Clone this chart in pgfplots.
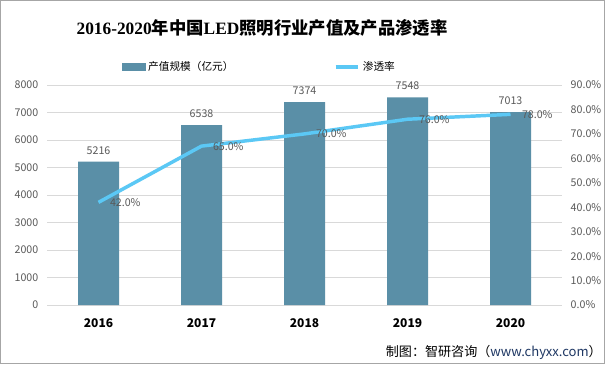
\documentclass[border=0pt]{standalone}
\usepackage{pgfplots}
\pgfplotsset{compat=1.18}
\usepackage{fontspec}
\setmainfont{Noto Sans CJK SC}
\newfontfamily\titlelatin{Liberation Serif}
\definecolor{barc}{HTML}{5A8FA7}
\definecolor{linec}{HTML}{5BC8F5}
\definecolor{tickc}{HTML}{595959}
\definecolor{gridc}{HTML}{D9D9D9}
\definecolor{framec}{HTML}{A6A6A6}
\begin{document}
\begin{tikzpicture}[x=0.75pt,y=0.75pt]
\fill[white] (0,0) rectangle (605,364);
\draw[framec, line width=0.9pt] (0.6,0.6) rectangle (604.4,363.4);
\node[font=\bfseries\fontsize{13}{16}\selectfont] at (262,336) {{\titlelatin 2016-2020}年中国{\titlelatin LED}照明行业产值及产品渗透率};
\node[anchor=east, font=\fontsize{9.8}{12}\selectfont, inner sep=0pt] at (602,12) {制图：智研咨询（{\color[HTML]{1F3864}www.chyxx.com}）};
\begin{axis}[
  at={(35.25pt,44.25pt)}, anchor=south west,
  scale only axis, width=386.25pt, height=165pt,
  xmin=-0.5, xmax=4.5, ymin=0, ymax=8000,
  ytick={0,1000,...,8000},
  xtick={0,1,2,3,4}, xticklabels={2016,2017,2018,2019,2020},
  axis x line*=bottom, axis y line*=left,
  y axis line style={draw=none},
  x axis line style={draw=gridc, line width=0.75pt, -},
  ymajorgrids, grid style={draw=gridc, line width=0.6pt},
  major tick length=0pt,
  /pgf/number format/.cd, 1000 sep={}, assume math mode=true, /pgfplots/.cd,
  yticklabel style={text=tickc, font=\fontsize{8}{9}\selectfont, xshift=-3pt},
  xticklabel style={font=\bfseries\fontsize{9}{11}\selectfont, text=black, yshift=-7pt},
  ybar, bar width=30.75pt,
  nodes near coords,
  nodes near coords style={text=tickc, font=\fontsize{8}{9}\selectfont, yshift=2pt},
]
\addplot[fill=barc, draw=none] coordinates {(0,5216)(1,6538)(2,7374)(3,7548)(4,7013)};
\end{axis}
\begin{axis}[
  at={(35.25pt,44.25pt)}, anchor=south west,
  scale only axis, width=386.25pt, height=165pt,
  xmin=-0.5, xmax=4.5, ymin=0, ymax=90,
  ytick={0,10,...,90},
  axis x line=none, axis y line*=right,
  y axis line style={draw=none},
  major tick length=0pt,
  yticklabel={\pgfmathprintnumber[fixed,fixed zerofill,precision=1,assume math mode=true]{\tick}\%},
  yticklabel style={text=tickc, font=\fontsize{8}{9}\selectfont, xshift=3pt},
  legend columns=2,
  legend style={at={(0.138,1.082)}, anchor=west, draw=none, fill=none,
    font=\fontsize{8}{10}\selectfont, /tikz/every even column/.append style={column sep=73pt}},
]
\addlegendimage{legend image code/.code={\fill[barc] (0pt,-2.6pt) rectangle (17pt,2.6pt);}}
\addlegendentry{产值规模（亿元）}
\addplot[linec, line width=2.6pt, mark=none,
  legend image code/.code={\draw[linec, line width=3pt] (0pt,0pt) -- (17pt,0pt);},
  nodes near coords={\pgfmathprintnumber[fixed,fixed zerofill,precision=1,assume math mode=true]{\pgfplotspointmeta}\%},
  nodes near coords style={anchor=west, text=tickc, font=\fontsize{8}{9}\selectfont, xshift=4pt}]
  coordinates {(0,42)(1,65)(2,70)(3,76)(4,78)};
\addlegendentry{渗透率}
\end{axis}
\pgfresetboundingbox
\path[use as bounding box] (0,0) rectangle (605,364);
\end{tikzpicture}
\end{document}
